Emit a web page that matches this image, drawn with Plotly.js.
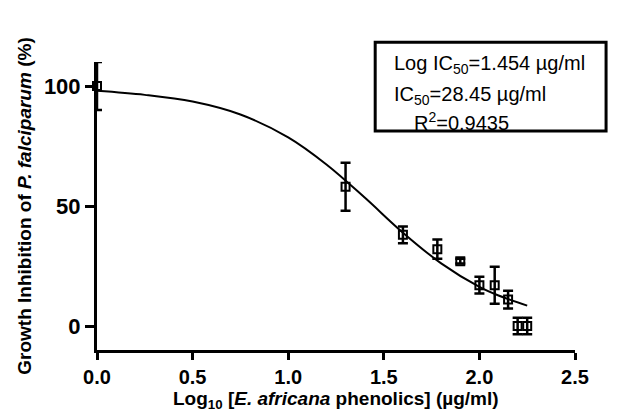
<!DOCTYPE html>
<html>
<head>
<meta charset="utf-8">
<script src="https://cdn.plot.ly/plotly-3.0.1.min.js"></script>
<style>html,body{margin:0;padding:0;background:#fff;}#chart{width:617px;height:412px;}</style>
</head>
<body>
<div id="chart"></div>
<script>
// Observed data (log10 concentration, % inhibition, SD)
var logConc = [0.0, 1.30, 1.60, 1.78, 1.90, 2.00, 2.08, 2.15, 2.20, 2.25];
var inhibition = [100, 58, 38, 32, 27, 17, 17, 11, 0, 0];
var sdValues = [10, 10, 3.5, 4, 1, 3.5, 7.7, 3.7, 3.4, 3.4];

// Fitted curve
var curveX = [0.0, 0.25, 0.5, 0.75, 1.0, 1.2, 1.4, 1.6, 1.8, 2.0, 2.1, 2.25];
var curveY = [98, 96.3, 93.5, 88.1, 78.6, 67.3, 53.5, 38.9, 26.1, 16.3, 12.7, 8.5];

var xTicks = [0, 0.5, 1.0, 1.5, 2.0, 2.5];
var xTickText = ['0.0', '0.5', '1.0', '1.5', '2.0', '2.5'];
var yTicks = [0, 50, 100];

var xTitle = 'Log<sub>10</sub> [<i>E. africana</i> phenolics] (\u00b5g/ml)';
var yTitle = 'Growth Inhibition of <i>P. falciparum</i> (%)';
var statLines = [
  'Log IC<sub>50</sub>=1.454 \u00b5g/ml',
  'IC<sub>50</sub>=28.45 \u00b5g/ml',
  'R<sup>2</sup>=0.9435'
];

var traces = [
  {
    x: curveX, y: curveY, mode: 'lines', type: 'scatter',
    line: {color: '#000', width: 2, shape: 'spline', smoothing: 1},
    hoverinfo: 'skip', showlegend: false
  },
  {
    x: logConc, y: inhibition, mode: 'markers', type: 'scatter',
    marker: {symbol: 'square-open', size: 8, color: '#000', line: {width: 2, color: '#000'}},
    error_y: {type: 'data', array: sdValues, visible: true, color: '#000', thickness: 2.5, width: 5},
    cliponaxis: false, showlegend: false
  }
];

var font = 'Liberation Sans, Arial, sans-serif';

var layout = {
  width: 617, height: 412,
  margin: {l: 97, r: 42, t: 62, b: 62},
  paper_bgcolor: '#fff', plot_bgcolor: '#fff',
  showlegend: false,
  xaxis: {
    range: [0, 2.5], tickvals: xTicks, ticktext: xTickText,
    showgrid: false, zeroline: false, showline: true, linecolor: '#000', linewidth: 3,
    ticks: 'outside', ticklen: 7, tickwidth: 3, tickcolor: '#000',
    tickfont: {family: font, size: 20, color: '#000', weight: 700}
  },
  yaxis: {
    range: [-10, 110], tickvals: yTicks,
    showgrid: false, zeroline: false, showline: true, linecolor: '#000', linewidth: 3,
    ticks: 'outside', ticklen: 9, tickwidth: 3, tickcolor: '#000',
    tickfont: {family: font, size: 22, color: '#000', weight: 700},
    title: {text: yTitle,
            font: {family: font, size: 19, color: '#000', weight: 700}, standoff: 8}
  },
  shapes: [{
    type: 'rect', xref: 'paper', yref: 'paper',
    x0: 0.582, x1: 1.065, y0: 0.76, y1: 1.069,
    line: {color: '#000', width: 3}, fillcolor: 'rgba(0,0,0,0)'
  }],
  annotations: [
    {text: xTitle, xref: 'paper', yref: 'paper', x: 0.5, y: -0.174, xanchor: 'center', yanchor: 'middle',
     showarrow: false, font: {family: font, size: 19, color: '#000', weight: 700}},
    {text: statLines[0], xref: 'paper', yref: 'paper', x: 0.617, y: 0.993, xanchor: 'left', yanchor: 'middle',
     showarrow: false, font: {family: font, size: 20, color: '#000'}},
    {text: statLines[1], xref: 'paper', yref: 'paper', x: 0.617, y: 0.882, xanchor: 'left', yanchor: 'middle',
     showarrow: false, font: {family: font, size: 20, color: '#000'}},
    {text: statLines[2], xref: 'paper', yref: 'paper', x: 0.659, y: 0.792, xanchor: 'left', yanchor: 'middle',
     showarrow: false, font: {family: font, size: 20, color: '#000'}}
  ]
};

Plotly.newPlot('chart', traces, layout, {displayModeBar: false, staticPlot: true});
</script>
</body>
</html>
